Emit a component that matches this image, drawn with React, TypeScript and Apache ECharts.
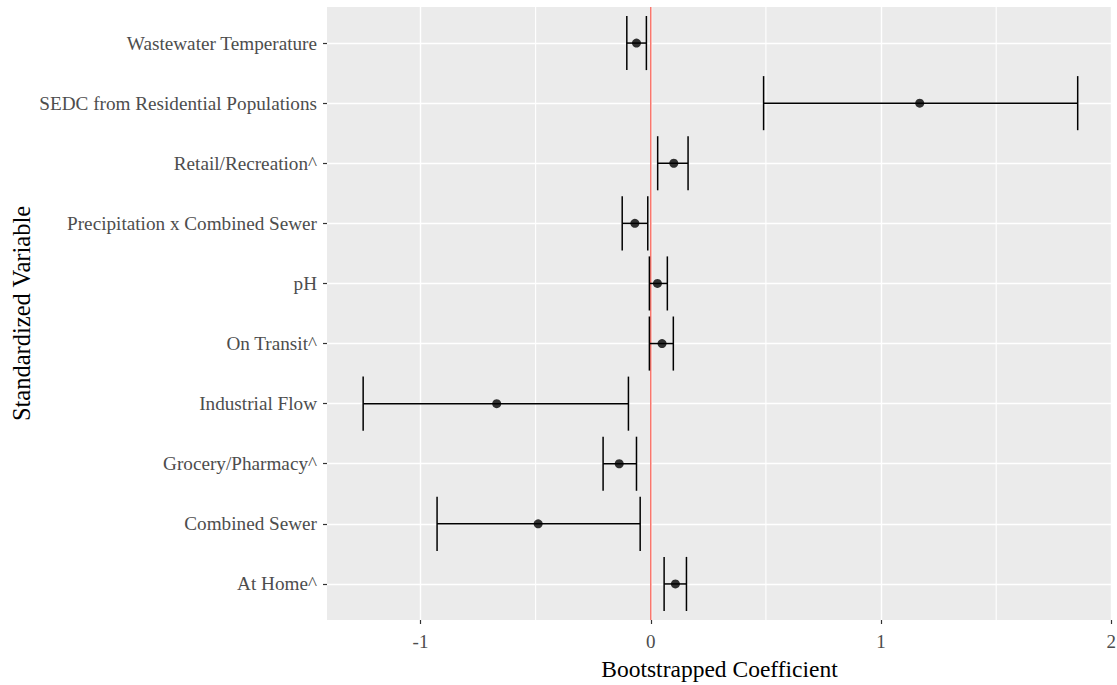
import React, { useEffect, useRef } from "react";
import * as echarts from "echarts";

// Categories from bottom (y = 1) to top (y = 10)
const categories = [
  "At Home^",
  "Combined Sewer",
  "Grocery/Pharmacy^",
  "Industrial Flow",
  "On Transit^",
  "pH",
  "Precipitation x Combined Sewer",
  "Retail/Recreation^",
  "SEDC from Residential Populations",
  "Wastewater Temperature",
];
const estimates = [0.107, -0.489, -0.137, -0.669, 0.049, 0.029, -0.069, 0.1, 1.168, -0.062];
const lowers = [0.058, -0.928, -0.207, -1.249, -0.006, -0.006, -0.124, 0.03, 0.49, -0.104];
const uppers = [0.155, -0.046, -0.062, -0.097, 0.098, 0.072, -0.013, 0.162, 1.854, -0.019];
const xTicks = [-1, 0, 1, 2];
const xMinorLines = [-0.5, 0.5, 1.5];
const zeroLine = [0];
const X_MIN = -1.406;
const X_MAX = 2.003;

export default function App() {
  const ref = useRef<HTMLDivElement>(null);
  useEffect(() => {
    if (!ref.current) return;
    const chart = echarts.init(ref.current, null, { renderer: "svg" });
    const yIdx = categories.map((_, i) => i + 1);
    const font = "'Liberation Serif', 'Times New Roman', serif";
    const vLine = (color: string, width: number) => (params: any, api: any) => {
      const x = api.coord([api.value(0), 0.4])[0];
      const cs = params.coordSys;
      return {
        type: "line",
        shape: { x1: x, y1: cs.y, x2: x, y2: cs.y + cs.height },
        style: { stroke: color, lineWidth: width },
      };
    };
    chart.setOption({
      animation: false,
      backgroundColor: "#ffffff",
      grid: {
        left: 327,
        right: 5,
        top: 7,
        bottom: 65,
        show: true,
        backgroundColor: "#EBEBEB",
        borderWidth: 0,
        containLabel: false,
        outerBoundsMode: "none",
      },
      xAxis: {
        type: "value",
        min: X_MIN,
        max: X_MAX,
        name: "Bootstrapped Coefficient",
        nameLocation: "middle",
        nameGap: 37,
        nameTextStyle: { fontFamily: font, fontSize: 23.5, color: "#000" },
        axisLine: { show: false, onZero: false },
        axisTick: { show: true, length: 4, customValues: xTicks, lineStyle: { color: "#333", width: 1.2 } },
        axisLabel: {
          customValues: xTicks,
          fontFamily: font,
          fontSize: 19,
          color: "#4D4D4D",
          margin: 12,
          formatter: (v: number) => String(v),
        },
        splitLine: { show: true, lineStyle: { color: "#ffffff", width: 1.4 } },
      },
      yAxis: {
        type: "value",
        min: 0.4,
        max: 10.6,
        name: "Standardized Variable",
        nameLocation: "middle",
        nameGap: 293,
        nameMoveOverlap: false,
        nameRotate: 90,
        nameTextStyle: { fontFamily: font, fontSize: 24.5, color: "#000" },
        axisLine: { show: false, onZero: false },
        axisTick: { show: true, length: 4, customValues: yIdx, lineStyle: { color: "#333", width: 1.2 } },
        axisLabel: {
          customValues: yIdx,
          fontFamily: font,
          fontSize: 19.2,
          color: "#4D4D4D",
          margin: 10,
          formatter: (v: number) => categories[Math.round(v) - 1] ?? "",
        },
        splitLine: { show: true, lineStyle: { color: "#ffffff", width: 1.4 } },
      },
      series: [
        {
          type: "custom",
          name: "minor",
          silent: true,
          z: 1,
          data: xMinorLines.map((v) => [v]),
          renderItem: vLine("#ffffff", 1.1),
        },
        {
          type: "custom",
          name: "zero",
          silent: true,
          z: 2,
          data: zeroLine.map((v) => [v]),
          renderItem: vLine("#F8766D", 1.5),
        },
        {
          type: "custom",
          name: "errorbars",
          z: 3,
          data: categories.map((_, i) => [lowers[i], uppers[i], i + 1]),
          renderItem: (params: any, api: any) => {
            const lo = api.coord([api.value(0), api.value(2)]);
            const hi = api.coord([api.value(1), api.value(2)]);
            const half = api.size([0, 0.45])[1];
            const style = { stroke: "#000000", lineWidth: 1.5 };
            return {
              type: "group",
              children: [
                { type: "line", shape: { x1: lo[0], y1: lo[1], x2: hi[0], y2: hi[1] }, style },
                { type: "line", shape: { x1: lo[0], y1: lo[1] - half, x2: lo[0], y2: lo[1] + half }, style },
                { type: "line", shape: { x1: hi[0], y1: hi[1] - half, x2: hi[0], y2: hi[1] + half }, style },
              ],
            };
          },
        },
        {
          type: "scatter",
          name: "estimate",
          z: 4,
          symbol: "circle",
          symbolSize: 9,
          itemStyle: { color: "#000000" },
          data: categories.map((_, i) => [estimates[i], i + 1]),
        },
      ],
    });
    return () => chart.dispose();
  }, []);
  return (
    <div
      ref={ref}
      style={{ width: 1117, height: 685, position: "absolute", left: 0, top: 0 }}
    />
  );
}
